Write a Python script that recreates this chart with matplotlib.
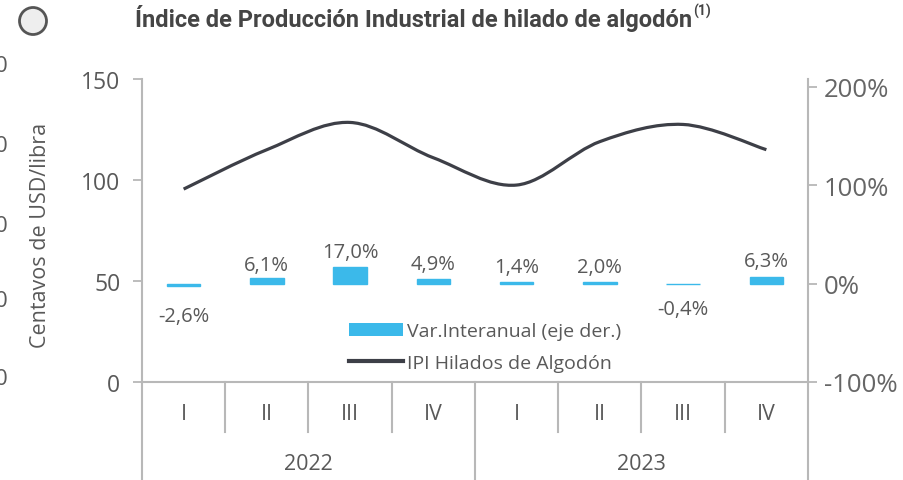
import matplotlib
matplotlib.use("Agg")
import matplotlib.pyplot as plt
from matplotlib.path import Path
from matplotlib.patches import PathPatch, Patch, Circle
from matplotlib.lines import Line2D
import matplotlib.transforms as mtrans

# ---------------- data ----------------
quarters = ["I", "II", "III", "IV", "I", "II", "III", "IV"]
years = ["2022", "2023"]
ipi_values = [95.5, 115, 128.5, 111, 97.5, 119, 127.5, 115]
var_interanual = [-2.6, 6.1, 17.0, 4.9, 1.4, 2.0, -0.4, 6.3]
var_labels = ["-2,6%", "6,1%", "17,0%", "4,9%", "1,4%", "2,0%", "-0,4%", "6,3%"]
left_ticks = [0, 50, 100, 150]
right_ticks = [-100, 0, 100, 200]
right_tick_labels = ["-100%", "0%", "100%", "200%"]

# ---------------- style ----------------
W, H, DPI = 904, 481, 100
FONT = "Open Sans"
TXT = "#595959"
AXC = "#b8b8b8"
BAR_C = "#3bb9ea"
LINE_C = "#3d3f47"
label_offsets_px = [-20, 3, 5, 5, 5, 5, -15, 6]

plt.rcParams["font.family"] = [FONT, "DejaVu Sans"]

fig = plt.figure(figsize=(W / DPI, H / DPI), dpi=DPI)
fig.patch.set_facecolor("white")

x_left, x_right, y_top, y_bot = 142, 808, 80, 383
ax = fig.add_axes([x_left / W, (H - y_bot) / H, (x_right - x_left) / W, (y_bot - y_top) / H])
ax2 = ax.twinx()

n = len(quarters)
xs = list(range(n))
ax.set_xlim(-0.5, n - 0.5)
ax.set_ylim(0, 150)
ax2.set_ylim(-100, 208)

# smooth line (Catmull-Rom style bezier, as Excel smoothed line)
pts = list(zip(xs, ipi_values))
verts = [pts[0]]
codes = [Path.MOVETO]
for i in range(n - 1):
    p0 = pts[i - 1] if i > 0 else pts[i]
    p1 = pts[i]
    p2 = pts[i + 1]
    p3 = pts[i + 2] if i + 2 < n else pts[i + 1]
    c1 = (p1[0] + (p2[0] - p0[0]) / 6, p1[1] + (p2[1] - p0[1]) / 6)
    c2 = (p2[0] - (p3[0] - p1[0]) / 6, p2[1] - (p3[1] - p1[1]) / 6)
    verts += [c1, c2, p2]
    codes += [Path.CURVE4] * 3
ax.add_patch(PathPatch(Path(verts, codes), facecolor="none", edgecolor=LINE_C,
                       lw=2.3, capstyle="butt", zorder=3))

# bars
ax2.bar(xs, var_interanual, width=0.4, color=BAR_C, edgecolor=BAR_C, lw=1.0, zorder=3)
for x, v, lab, off in zip(xs, var_interanual, var_labels, label_offsets_px):
    ax2.annotate(lab, (x, v), xytext=(0, off * 72 / DPI), textcoords="offset points",
                 ha="center", va="bottom" if off > 0 else "top",
                 fontsize=14.5, color=TXT)

# spines & ticks
for s in ["top", "right"]:
    ax.spines[s].set_visible(False)
for s in ["top", "left", "bottom"]:
    ax2.spines[s].set_visible(False)
ax.spines["left"].set_color(AXC)
ax.spines["bottom"].set_color(AXC)
ax2.spines["right"].set_color(AXC)
for sp in [ax.spines["left"], ax.spines["bottom"], ax2.spines["right"]]:
    sp.set_linewidth(1.5)

ax.set_yticks(left_ticks)
ax.tick_params(axis="y", direction="out", length=6.5, width=1.3, color=AXC,
               labelsize=16.5, labelcolor=TXT, pad=9)
ax2.set_yticks(right_ticks)
ax2.set_yticklabels(right_tick_labels)
ax2.tick_params(axis="y", direction="out", length=6.5, width=1.3, color=AXC,
                labelsize=18.5, labelcolor="#666666", pad=5)
ax.set_xticks([])
ax2.set_xticks([])

# category axis dividers below plot
axh = y_bot - y_top
bottom_frac = -(H - y_bot) / axh
quarter_frac = -(433 - y_bot) / axh
blend = mtrans.blended_transform_factory(ax.transData, ax.transAxes)
for b in [-0.5, 3.5, n - 0.5]:
    ax.add_line(Line2D([b, b], [0, bottom_frac], transform=blend, color=AXC,
                       lw=1.5, clip_on=False))
for b in [0.5, 1.5, 2.5, 4.5, 5.5, 6.5]:
    ax.add_line(Line2D([b, b], [0, quarter_frac], transform=blend, color=AXC,
                       lw=1.5, clip_on=False))
for x, q in zip(xs, quarters):
    ax.text(x, -(415 - y_bot) / axh, q, transform=blend, ha="center", va="center",
            fontsize=15.5, color=TXT)
for i, yname in enumerate(years):
    ax.text(1.5 + 4 * i, -(465 - y_bot) / axh, yname, transform=blend, ha="center",
            va="center", fontsize=15.5, color=TXT)

# legend
handles = [Patch(facecolor=BAR_C, edgecolor="none"),
           Line2D([0], [0], color=LINE_C, lw=3)]
leg = ax2.legend(handles, ["Var.Interanual (eje der.)", "IPI Hilados de Algodón"],
                 loc="center", bbox_to_anchor=(485 / W, (H - 348) / H),
                 bbox_transform=fig.transFigure, frameon=False, fontsize=14,
                 handlelength=2.75, handletextpad=0.2, labelspacing=0.7,
                 borderpad=0)
for t in leg.get_texts():
    t.set_color(TXT)

# y label
fig.text(41 / W, (H - 235) / H, "Centavos de USD/libra", rotation=90, ha="center",
         va="center", fontsize=15.5, color=TXT)

# title
title = fig.text(135 / W, (H - 18) / H, "Índice de Producción Industrial de hilado de algodón",
                 ha="left", va="center", fontsize=17, fontweight="bold", color="#454545",
                 family=["Roboto", "DejaVu Sans"])
fig.canvas.draw()
bb = title.get_window_extent()
fig.text((bb.x1 + 1) / W, (H - 11) / H, "(1)", ha="left", va="center", fontsize=10,
         fontweight="bold", color="#454545", family=["Roboto", "DejaVu Sans"])

# decorative circle and clipped neighbour labels at the left edge
fig.add_artist(Circle((33 / DPI, (H - 22) / DPI), 13.5 / DPI, transform=fig.dpi_scale_trans,
                      facecolor="#eeeeee", edgecolor="#555555", lw=2))
for yy in [66, 147, 226, 302, 380]:
    fig.text(8 / W, (H - yy) / H, "0", ha="right", va="center", fontsize=16, color=TXT)

fig.savefig("out.png", dpi=DPI)
